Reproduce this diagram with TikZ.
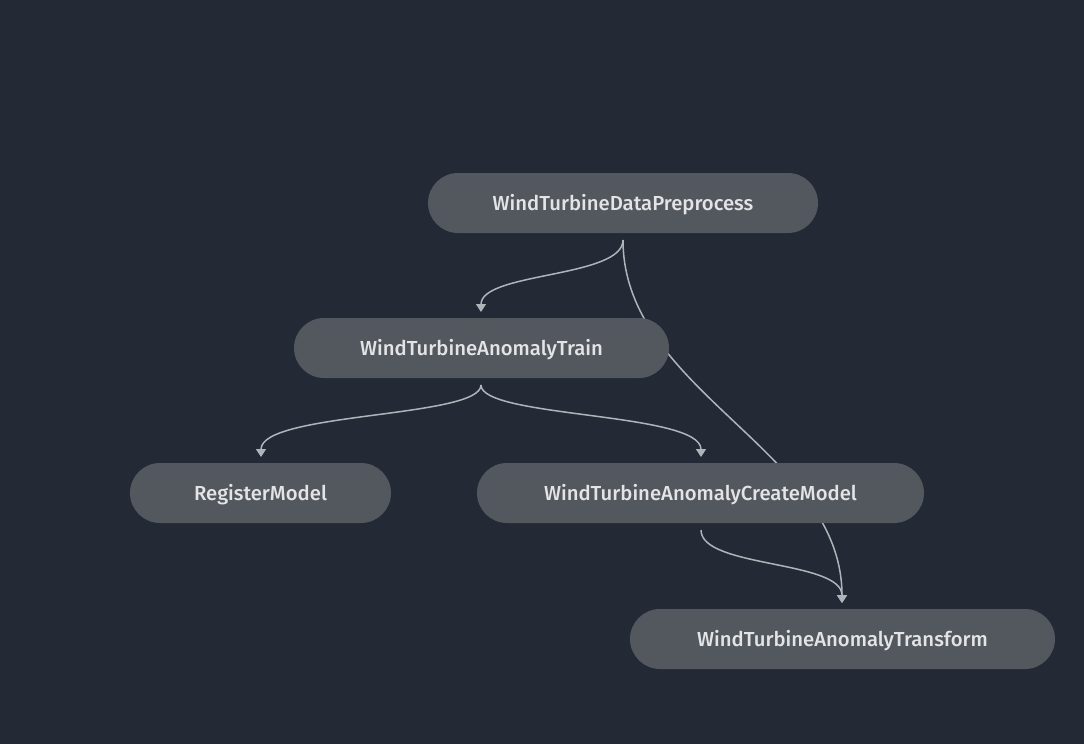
\documentclass[tikz,border=0pt]{standalone}
\usepackage{fontspec}
\setmainfont{Fira Sans}[UprightFont=* Medium]
\usetikzlibrary{arrows.meta,calc}
\definecolor{bg}{RGB}{35,42,53}
\definecolor{nodefill}{RGB}{83,87,94}
\definecolor{nodetext}{RGB}{226,228,230}
\definecolor{edgecol}{RGB}{176,180,186}
\tikzset{
  stepnode/.style={fill=nodefill, rounded corners=30pt, minimum height=60pt, inner sep=0pt,
    text=nodetext, font=\fontsize{20.3}{22}\selectfont, text height=17pt, text depth=2pt},
  edge/.style={draw=edgecol, line width=1.5pt},
  arr/.style={edge, -{Triangle[width=10pt,length=8pt]}}
}
\begin{document}
\begin{tikzpicture}[x=1pt,y=-1pt]
\fill[bg] (0,0) rectangle (1084,744);
\useasboundingbox (0,0) rectangle (1084,744);
% nodes positions
\coordinate (preC) at (623,203);
\coordinate (trC) at (481.5,348);
\coordinate (regC) at (260.5,493);
\coordinate (cmC) at (700.5,493);
\coordinate (tfC) at (842.5,639);
% edge endpoints
\coordinate (preOut) at (623,240);
\coordinate (trIn) at (481,312);
\coordinate (trOut) at (481,385);
\coordinate (regIn) at (261,457);
\coordinate (cmIn) at (701,457);
\coordinate (cmOut) at (701,530);
\coordinate (tfIn) at (842,603);
% edges (behind nodes)
\draw[arr] (preOut) .. controls (623,392) and (842,450) .. (tfIn);
\draw[arr] (preOut) .. controls (623,278) and (481,272) .. (trIn);
\draw[arr] (trOut) .. controls (481,418) and (261,412) .. (regIn);
\draw[arr] (trOut) .. controls (481,418) and (701,412) .. (cmIn);
\draw[arr] (cmOut) .. controls (701,568) and (842,560) .. (tfIn);
% nodes
\node[stepnode, minimum width=390pt] (pre) at (preC) {WindTurbineDataPreprocess};
\node[stepnode, minimum width=375pt] (tr) at (trC) {WindTurbineAnomalyTrain};
\node[stepnode, minimum width=261pt] (reg) at (regC) {RegisterModel};
\node[stepnode, minimum width=447pt] (cm) at (cmC) {WindTurbineAnomalyCreateModel};
\node[stepnode, minimum width=425pt] (tf) at (tfC) {WindTurbineAnomalyTransform};
\end{tikzpicture}
\end{document}
